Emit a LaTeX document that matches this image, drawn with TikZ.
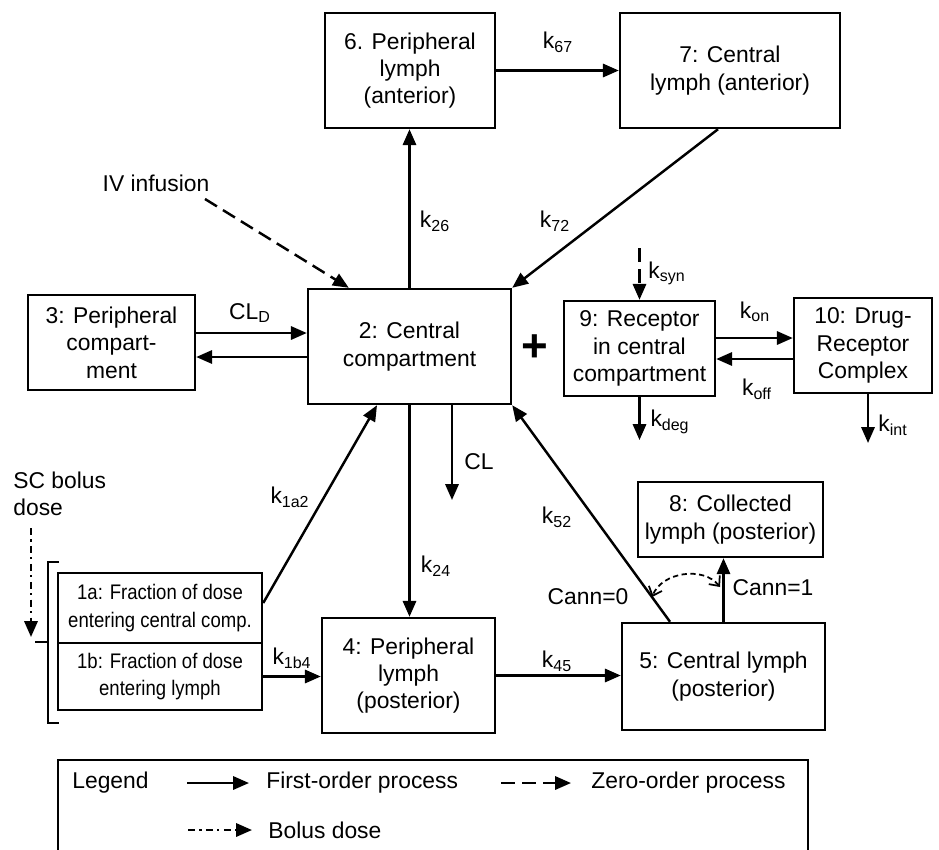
\documentclass[tikz,border=0pt]{standalone}
\usepackage{fontspec}
\setmainfont{Liberation Sans}
\newfontfamily\narrowfont[FakeStretch=0.88]{Liberation Sans}
\usetikzlibrary{arrows.meta}

\begin{document}
\begin{tikzpicture}[x=0.02cm, y=-0.02cm,
    font=\fontsize{13}{15.6}\selectfont,
    box/.style={draw, line width=1.4pt, align=center, inner sep=1pt},
    small/.style={font=\narrowfont\fontsize{12}{15.5}\selectfont},
    arr/.style={-{Triangle[length=9pt,width=7.5pt]}, line width=1.4pt},
    zero/.style={arr, dash pattern=on 8pt off 4pt},
    bolus/.style={arr, dash pattern=on 4pt off 2.5pt on 1.2pt off 2.5pt},
    lbl/.style={inner sep=0pt}]
            \useasboundingbox (0,0) rectangle (939,849);

            % Define compartments
            \node[box, small, minimum width=4.08cm, minimum height=1.4cm] (n1a) at (160,608) {1a: Fraction of dose\\entering central comp.};
            \node[box, small, minimum width=4.08cm, minimum height=1.34cm] (n1b) at (160,676.5) {1b: Fraction of dose\\entering lymph};
            \node[box, minimum width=4.06cm, minimum height=2.3cm] (n2) at (409.5,346.5) {2: Central\\compartment};
            \node[box, minimum width=3.34cm, minimum height=1.9cm] (n3) at (111.5,342.5) {3: Peripheral\\compart-\\ment};
            \node[box, minimum width=3.46cm, minimum height=2.3cm] (n4) at (408.5,675.5) {4: Peripheral\\lymph\\(posterior)};
            \node[box, minimum width=4.06cm, minimum height=2.14cm] (n5) at (723.5,676.5) {5: Central lymph\\(posterior)};
            \node[box, minimum width=3.4cm, minimum height=2.3cm] (n6) at (410,70.5) {6. Peripheral\\lymph\\(anterior)};
            \node[box, minimum width=4.4cm, minimum height=2.3cm] (n7) at (730,70.5) {7: Central\\lymph (anterior)};
            \node[box, minimum width=3.7cm, minimum height=1.5cm] (n8) at (730.5,519.5) {8: Collected\\lymph (posterior)};
            \node[box, minimum width=3.02cm, minimum height=1.9cm] (n9) at (639.5,348.5) {9: Receptor\\in central\\compartment};
            \node[box, minimum width=2.76cm, minimum height=1.9cm] (n10) at (863,345.5) {10: Drug-\\Receptor\\Complex};

            % Doses
            \node[lbl] (iv) at (156,183) {IV infusion};
            \node[lbl, align=left, anchor=west] (sc) at (13,494) {SC bolus\\dose};
            \node[lbl, font=\bfseries\fontsize{26}{26}\selectfont] (plus) at (535,348) {+};

            % Free ends
            \coordinate (ivs) at (205,199);
            \coordinate (scs) at (31,528);
            \coordinate (sce) at (31,637);
            \coordinate (syn) at (639.5,248);
            \coordinate (deg) at (639.5,440);
            \coordinate (int) at (868,443);
            \coordinate (cl) at (452,500);
            \coordinate (cann1) at (720,587);
            \coordinate (cann0) at (652,597);

            % Draw transfers
            \draw[zero] (ivs) -- ([xshift=0.84cm]n2.north west);
            \draw[arr] (n2.north) -- (n2.north |- n6.south);
            \draw[arr] (n6.east) -- (n7.west);
            \draw[arr] ([xshift=-0.24cm]n7.south) -- (n2.north east);
            \draw[arr] (n3.east |- 0,333) -- (n2.west |- 0,333);
            \draw[arr] (n2.west |- 0,357) -- (n3.east |- 0,357);
            \draw[arr] (n2.south -| cl) -- (cl);
            \draw[arr] (n2.south) -- (n2.south |- n4.north);
            \draw[arr] ([yshift=0.1cm]n1a.east) -- ([xshift=-0.65cm]n2.south);
            \draw[arr] (n1b.east) -- (n4.west |- n1b.east);
            \draw[arr] (n4.east) -- (n5.west |- n4.east);
            \draw[arr] ([xshift=-1.07cm]n5.north) -- (n2.south east);
            \draw[arr] (n5.north) -- (n5.north |- n8.south);
            \draw[{Straight Barb[length=4.5pt,width=8pt]}-{Straight Barb[length=4.5pt,width=8pt]}, line width=1pt, dash pattern=on 3pt off 2pt] (cann1) to[bend right=60] (cann0);
            \draw[zero] (syn) -- (n9.north);
            \draw[arr] (n9.east |- 0,338) -- (n10.west |- 0,338);
            \draw[arr] (n10.west |- 0,359) -- (n9.east |- 0,359);
            \draw[arr] (n9.south) -- (deg);
            \draw[arr] (n10.south -| int) -- (int);
            \draw[bolus] (scs) -- (sce);

            % Bracket round 1a and 1b
            \draw[line width=1.4pt] (59,562) -- (48,562) -- (48,723) -- (59,723);
            \draw[line width=1.4pt] (48,642) -- (35,642);

            % Rate labels
            \node[lbl] (l67) at (558,42) {k\textsubscript{67}};
            \node[lbl] (l26) at (435,221) {k\textsubscript{26}};
            \node[lbl] (l72) at (555,221) {k\textsubscript{72}};
            \node[lbl] (lcld) at (250,313) {CL\textsubscript{D}};
            \node[lbl] (lcl) at (479,462) {CL};
            \node[lbl] (l1a2) at (290,497) {k\textsubscript{1a2}};
            \node[lbl] (l1b4) at (292,658) {k\textsubscript{1b4}};
            \node[lbl] (l24) at (436,566) {k\textsubscript{24}};
            \node[lbl] (l52) at (557,517) {k\textsubscript{52}};
            \node[lbl] (l45) at (557,661) {k\textsubscript{45}};
            \node[lbl] (lc0) at (588,597) {Cann=0};
            \node[lbl] (lc1) at (773,588) {Cann=1};
            \node[lbl] (lsyn) at (667,273) {k\textsubscript{syn}};
            \node[lbl] (lon) at (755,312) {k\textsubscript{on}};
            \node[lbl] (loff) at (757,389) {k\textsubscript{off}};
            \node[lbl] (ldeg) at (670,422) {k\textsubscript{deg}};
            \node[lbl] (lint) at (893,425) {k\textsubscript{int}};

            % Legend
            \draw[line width=1.4pt] (58,852) -- (58,760) -- (808,760) -- (808,852);
            \node[lbl, anchor=west] (lg) at (72,783) {Legend};
            \coordinate (lg1) at (187,783);
            \node[lbl, anchor=west] (lgfirst) at (266,783) {First-order process};
            \draw[arr] (lg1) -- ([xshift=-0.34cm]lgfirst.west);
            \coordinate (lg2) at (501,783);
            \node[lbl, anchor=west] (lgzero) at (591,783) {Zero-order process};
            \draw[zero] (lg2) -- ([xshift=-0.4cm]lgzero.west);
            \coordinate (lg3) at (188,830);
            \node[lbl, anchor=west] (lgbolus) at (268,830) {Bolus dose};
            \draw[bolus] (lg3) -- ([xshift=-0.32cm]lgbolus.west);
        \end{tikzpicture}
\end{document}
